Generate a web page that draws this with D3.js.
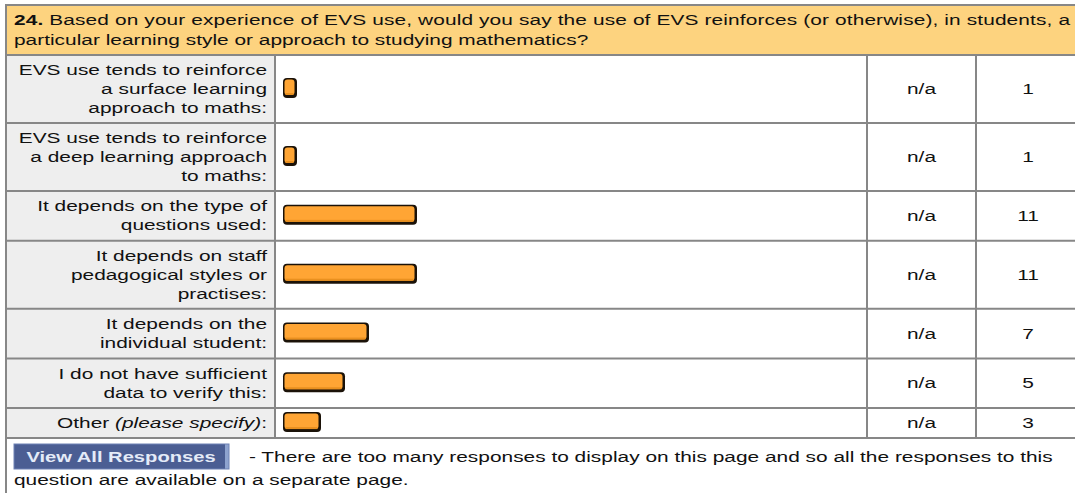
<!DOCTYPE html>
<html>
<head>
<meta charset="utf-8">
<script src="https://cdn.jsdelivr.net/npm/d3@7"></script>
<style>
  html, body { margin: 0; padding: 0; background: #fff; }
  svg { display: block; font-family: "Liberation Sans", Arial, Helvetica, sans-serif; }
</style>
</head>
<body>
<svg id="chart" width="1075" height="493"></svg>
<script>
// ---- survey question and answers ----
const questionNumber = "24.";
const questionLines = [
  " Based on your experience of EVS use, would you say the use of EVS reinforces (or otherwise), in students, a",
  "particular learning style or approach to studying mathematics?"
];
const answerLabels = [
  ["EVS use tends to reinforce", "a surface learning", "approach to maths:"],
  ["EVS use tends to reinforce", "a deep learning approach", "to maths:"],
  ["It depends on the type of", "questions used:"],
  ["It depends on staff", "pedagogical styles or", "practises:"],
  ["It depends on the", "individual student:"],
  ["I do not have sufficient", "data to verify this:"],
  ["Other (please specify):"]
];
const responsePercents = ["n/a", "n/a", "n/a", "n/a", "n/a", "n/a", "n/a"];
const responseCounts = [1, 1, 11, 11, 7, 5, 3];
const buttonLabel = "View All Responses";
const footerLines = [
  "- There are too many responses to display on this page and so all the responses to this",
  "question are available on a separate page."
];

// ---- layout ----
const W = 1075, H = 493;
const SX = 1.44;          // horizontal glyph stretch of the page text
const FS = 14.5;          // font size
const LINE = 19;          // line spacing inside a cell
const rowHeightByLines = { 1: 30, 2: 49.7, 3: 68 };
const tableLeft = 6, tableRight = 1080, tableTop = 5, headerBottom = 55;
const labelRight = 275, barColRight = 867, pctColRight = 976;
const gridColor = "#878787";

const svg = d3.select("#chart");

// text helper: draws a line with the page's wide glyphs
function txt(g, x, y, anchor) {
  return g.append("text")
    .attr("transform", `translate(${x},${y}) scale(${SX},1)`)
    .attr("text-anchor", anchor || "start")
    .attr("font-size", FS)
    .attr("fill", "#111");
}

// row geometry from line counts
const rowTops = [];
let yCursor = headerBottom;
answerLabels.forEach(lines => {
  const h = rowHeightByLines[lines.length];
  rowTops.push({ y0: yCursor, y1: yCursor + h });
  yCursor += h;
});
const tableBottom = yCursor;

// bar length scale
const barX0 = 283;
const x = d3.scaleLinear()
  .domain([0, d3.max(responseCounts)])
  .range([barX0, barX0 + 132]);

// ---- header ----
svg.append("rect")
  .attr("x", tableLeft).attr("y", tableTop)
  .attr("width", tableRight - tableLeft).attr("height", headerBottom - tableTop)
  .attr("fill", "#FDD37F");

// first line of the question is justified across the cell
const h1 = txt(svg, 14, 25)
  .attr("textLength", (1070 - 14) / SX)
  .attr("lengthAdjust", "spacing");
h1.append("tspan").attr("font-weight", "bold").text(questionNumber);
h1.append("tspan").text(questionLines[0]);
txt(svg, 14, 45).text(questionLines[1]);

// ---- body cells ----
const rows = svg.append("g").selectAll("g.row")
  .data(answerLabels.map((lines, i) => ({
    lines, count: responseCounts[i], pct: responsePercents[i],
    y0: rowTops[i].y0, y1: rowTops[i].y1
  })))
  .join("g").attr("class", "row");

rows.append("rect")
  .attr("x", tableLeft).attr("y", d => d.y0)
  .attr("width", labelRight - tableLeft).attr("height", d => d.y1 - d.y0)
  .attr("fill", "#EEEEEE");

rows.append("rect")
  .attr("x", labelRight).attr("y", d => d.y0)
  .attr("width", tableRight - labelRight).attr("height", d => d.y1 - d.y0)
  .attr("fill", "#FFFFFF");

// right-aligned labels
rows.each(function (d) {
  const g = d3.select(this);
  const mid = (d.y0 + d.y1) / 2;
  const first = mid - (d.lines.length - 1) * LINE / 2 + 5;
  d.lines.forEach((line, k) => {
    const t = txt(g, 267, first + k * LINE, "end");
    const m = line.match(/^(.*?)(\(.*\))(.*)$/);
    if (m) {
      t.append("tspan").text(m[1]);
      t.append("tspan").attr("font-style", "italic").text(m[2]);
      t.append("tspan").text(m[3]);
    } else {
      t.text(line);
    }
  });
});

// bars
const barH = 20;
const bars = rows.append("g").attr("class", "bar");
bars.append("rect")
  .attr("x", barX0)
  .attr("y", d => (d.y0 + d.y1) / 2 - barH / 2 - 1)
  .attr("width", d => x(d.count) - barX0 + 2)
  .attr("height", barH)
  .attr("rx", 4).attr("ry", 4)
  .attr("fill", "#1b1208");
bars.append("rect")
  .attr("x", barX0 + 1.5)
  .attr("y", d => (d.y0 + d.y1) / 2 - barH / 2 + 0.5)
  .attr("width", d => x(d.count) - barX0 - 2)
  .attr("height", barH - 4.5)
  .attr("rx", 3).attr("ry", 3)
  .attr("fill", "#FFA534");
bars.append("rect")
  .attr("x", barX0 + 2.5)
  .attr("y", d => (d.y0 + d.y1) / 2 + barH / 2 - 6)
  .attr("width", d => x(d.count) - barX0 - 4)
  .attr("height", 2)
  .attr("fill", "#E9901F");

// percent and count columns
rows.each(function (d) {
  const g = d3.select(this);
  const mid = (d.y0 + d.y1) / 2 + 5;
  txt(g, (barColRight + pctColRight) / 2, mid, "middle").text(d.pct);
  txt(g, 1028, mid, "middle").text(d.count);
});

// ---- grid lines ----
const grid = svg.append("g")
  .attr("stroke", gridColor).attr("stroke-width", 2).attr("fill", "none");
grid.append("line").attr("x1", tableLeft - 1).attr("x2", tableRight)
  .attr("y1", tableTop).attr("y2", tableTop);
grid.append("line").attr("x1", tableLeft - 1).attr("x2", tableRight)
  .attr("y1", headerBottom).attr("y2", headerBottom);
rowTops.forEach(r => {
  grid.append("line").attr("x1", tableLeft).attr("x2", tableRight)
    .attr("y1", r.y1).attr("y2", r.y1);
});
grid.append("line").attr("x1", tableLeft).attr("x2", tableLeft)
  .attr("y1", tableTop).attr("y2", H);
[labelRight, barColRight, pctColRight].forEach(cx => {
  grid.append("line").attr("x1", cx).attr("x2", cx)
    .attr("y1", headerBottom).attr("y2", tableBottom);
});

// ---- footer ----
const btn = svg.append("g");
btn.append("rect")
  .attr("x", 14).attr("y", 444).attr("width", 215).attr("height", 25)
  .attr("fill", "#4B5E93");
btn.append("rect")
  .attr("x", 225).attr("y", 444).attr("width", 4).attr("height", 25)
  .attr("fill", "#8EA3CF");
btn.append("rect")
  .attr("x", 14).attr("y", 444).attr("width", 215).attr("height", 25)
  .attr("fill", "none").attr("stroke", "#6E82B5").attr("stroke-width", 1);
txt(btn, 121, 462, "middle")
  .attr("font-weight", "bold").attr("fill", "#E4EBF8").attr("font-size", 14)
  .text(buttonLabel);

txt(svg, 249, 462).text(footerLines[0]);
txt(svg, 14, 485).text(footerLines[1]);
</script>
</body>
</html>
